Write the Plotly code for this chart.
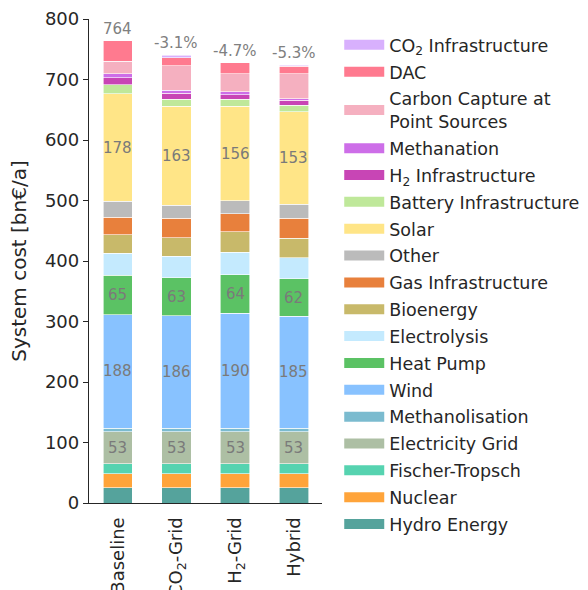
import plotly.graph_objects as go

# ---------------- data (bn EUR/a), stacked bottom -> top ----------------
scenarios = ["Baseline", "CO<sub>2</sub>-Grid", "H<sub>2</sub>-Grid", "Hybrid"]

hydro_energy = [25, 25, 25, 25]
nuclear = [23, 23, 23, 23]
fischer_tropsch = [16.5, 16.5, 16.5, 16.5]
electricity_grid = [53, 53, 53, 53]
methanolisation = [6, 6, 6, 6]
wind = [188, 186, 190, 185]
heat_pump = [65, 63, 64, 62]
electrolysis = [36, 35, 37, 35]
bioenergy = [31, 31, 34, 32]
gas_infrastructure = [29, 32, 30, 33.5]
other = [26, 22, 21, 22.6]
solar = [178, 163, 156, 153]
battery_infrastructure = [15, 12, 12, 11]
h2_infrastructure = [11, 10, 7.6, 8]
methanation = [6.6, 4.5, 5, 3]
carbon_capture_ps = [21, 40.8, 29.5, 41]
dac = [34, 13, 18.5, 12]
co2_infrastructure = [0, 4.5, 0, 2]

series_names = [
    "Hydro Energy", "Nuclear", "Fischer-Tropsch", "Electricity Grid",
    "Methanolisation", "Wind", "Heat Pump", "Electrolysis", "Bioenergy",
    "Gas Infrastructure", "Other", "Solar", "Battery Infrastructure",
    "H<sub>2</sub> Infrastructure", "Methanation",
    "Carbon Capture at<br>Point Sources", "DAC", "CO<sub>2</sub> Infrastructure",
]
series_values = [
    hydro_energy, nuclear, fischer_tropsch, electricity_grid, methanolisation,
    wind, heat_pump, electrolysis, bioenergy, gas_infrastructure, other, solar,
    battery_infrastructure, h2_infrastructure, methanation, carbon_capture_ps,
    dac, co2_infrastructure,
]
series_colors = [
    "#55a39c", "#ffa43a", "#56d3b0", "#adbfa4", "#7bbbcf", "#88c2ff",
    "#5bc264", "#c4eafe", "#c8b96a", "#e8803c", "#bbbbbb", "#ffe587",
    "#bfe89a", "#c845b5", "#cd6ee8", "#f5b0c0", "#ff7a8f", "#d8b0fd",
]

LABEL_MIN = 50  # segments at least this large get a value label

fig = go.Figure()
annotations = []
base = [0.0] * len(scenarios)
for name, vals, color in zip(series_names, series_values, series_colors):
    fig.add_trace(go.Bar(
        x=scenarios, y=vals, name=name, width=0.5,
        marker=dict(color=color, line=dict(color="rgba(255,255,255,0.75)", width=0.8)),
        showlegend=False, hoverinfo="x+y+name",
    ))
    for i, v in enumerate(vals):
        if v >= LABEL_MIN:
            annotations.append(dict(
                x=scenarios[i], y=base[i] + v / 2, xref="x", yref="y",
                text=f"{v:.0f}", showarrow=False,
                font=dict(size=15, color="#7a7a7a", family="DejaVu Sans"),
            ))
        base[i] += v

# legend entries (top of stack first), drawn as wide swatches
for name, color in zip(series_names[::-1], series_colors[::-1]):
    fig.add_trace(go.Scatter(
        x=[None], y=[None], mode="lines", name=name, legendgroup=name,
        line=dict(color=color, width=12), showlegend=True, hoverinfo="skip",
    ))

totals = base
for i, t in enumerate(totals):
    if i == 0:
        txt = f"{t:.0f}"
    else:
        txt = f"{(t / totals[0] - 1) * 100:.1f}%"
    annotations.append(dict(
        x=scenarios[i], y=t, xref="x", yref="y", text=txt, showarrow=False,
        yanchor="bottom", yshift=1,
        font=dict(size=15, color="#808080", family="DejaVu Sans"),
    ))

axis_color = "#262626"
fig.update_layout(
    width=588, height=590,
    margin=dict(l=89, r=266, t=19, b=87, autoexpand=False),
    paper_bgcolor="white", plot_bgcolor="white",
    barmode="stack",
    font=dict(family="DejaVu Sans", size=18, color=axis_color),
    annotations=annotations,
    showlegend=True,
    legend=dict(
        x=1.074, y=0.9835, xanchor="left", yanchor="top",
        traceorder="grouped", tracegroupgap=1.1, itemwidth=40,
        maxheight=700,
        font=dict(size=17.5, color=axis_color),
        bgcolor="rgba(0,0,0,0)", borderwidth=0,
    ),
    xaxis=dict(
        range=[-0.49, 3.48], showline=True, linecolor=axis_color, linewidth=1.3,
        showgrid=False, zeroline=False, ticks="", tickangle=-90,
        tickfont=dict(size=18), ticklabelstandoff=6,
    ),
    yaxis=dict(
        range=[0, 800], dtick=100, showline=True, linecolor=axis_color,
        linewidth=1.3, showgrid=False, zeroline=False, ticks="outside",
        ticklen=5, tickwidth=1.2, tickcolor=axis_color, tickfont=dict(size=18),
        title=dict(text="System cost [bn€/a]", font=dict(size=20), standoff=12),
    ),
)

fig.write_html("out.html", config={"displayModeBar": False},
               post_script="document.body.style.margin='0';")
